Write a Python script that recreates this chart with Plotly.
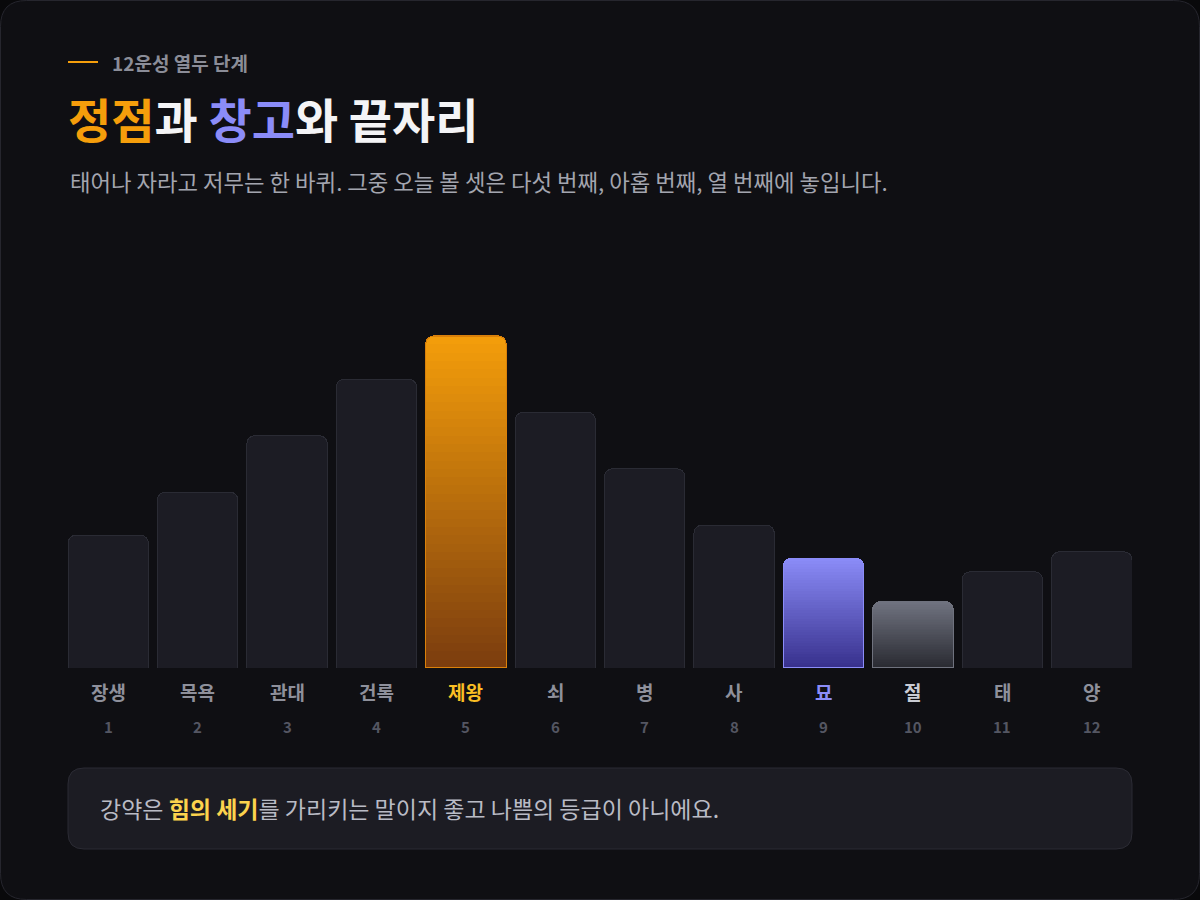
import plotly.graph_objects as go

# ---- data ----
categories = ["장생", "목욕", "관대", "건록", "제왕", "쇠", "병", "사", "묘", "절", "태", "양"]
stage_no = ["1", "2", "3", "4", "5", "6", "7", "8", "9", "10", "11", "12"]
strength = [40, 53, 70, 87, 100, 77, 60, 43, 33, 20, 29, 35]
highlight = {4: "peak", 8: "store", 9: "end"}

W, H = 1200, 900
FONT = "Noto Sans CJK KR"
BASE_PX, TOP_PX = 668, 300
PX_PER_UNIT = 3.32
YMAX = (BASE_PX - TOP_PX) / PX_PER_UNIT

grad = {
    "peak": ((122, 60, 14), (245, 158, 11), "#d9800a"),
    "store": ((55, 48, 140), (139, 140, 248), "#8b8cf8"),
    "end": ((40, 41, 48), (112, 115, 128), "#6f727e"),
}
label_col = {"peak": "#fbbf24", "store": "#8b8cf8", "end": "#c9cbd3"}


def px(x):
    return x / W


def py(y):
    return 1 - y / H


def rrect(x0, y0, x1, y1, r):
    p = []
    p.append(f"M {px(x0 + r)},{py(y0)}")
    p.append(f"L {px(x1 - r)},{py(y0)}")
    p.append(f"Q {px(x1)},{py(y0)} {px(x1)},{py(y0 + r)}")
    p.append(f"L {px(x1)},{py(y1 - r)}")
    p.append(f"Q {px(x1)},{py(y1)} {px(x1 - r)},{py(y1)}")
    p.append(f"L {px(x0 + r)},{py(y1)}")
    p.append(f"Q {px(x0)},{py(y1)} {px(x0)},{py(y1 - r)}")
    p.append(f"L {px(x0)},{py(y0 + r)}")
    p.append(f"Q {px(x0)},{py(y0)} {px(x0 + r)},{py(y0)} Z")
    return " ".join(p)


idx = list(range(len(categories)))
fig = go.Figure()

# base dark bars
fig.add_trace(go.Bar(
    x=idx,
    y=[None if i in highlight else v for i, v in zip(idx, strength)],
    marker=dict(color="#1c1c24", line=dict(color="#2a2b34", width=1), cornerradius=8),
    hoverinfo="skip", showlegend=False,
))

# gradient segments for highlighted bars
N = 40
for k in range(N):
    t = (k + 0.5) / N
    ys, cols = [], []
    for i, v in zip(idx, strength):
        if i in highlight:
            lo, hi, _ = grad[highlight[i]]
            c = tuple(round(lo[j] + (hi[j] - lo[j]) * t) for j in range(3))
            ys.append(v / N)
            cols.append(f"rgb{c}")
        else:
            ys.append(None)
            cols.append("rgba(0,0,0,0)")
    fig.add_trace(go.Bar(
        x=idx, y=ys,
        marker=dict(color=cols, line=dict(width=0), cornerradius=8),
        hoverinfo="skip", showlegend=False,
    ))

# outlines for highlighted bars on overlaid axis
fig.add_trace(go.Bar(
    x=idx,
    y=[v if i in highlight else None for i, v in zip(idx, strength)],
    xaxis="x2", yaxis="y2",
    marker=dict(color="rgba(0,0,0,0)",
                line=dict(color=[grad[highlight[i]][2] if i in highlight else "rgba(0,0,0,0)" for i in idx], width=1.2),
                cornerradius=8),
    hoverinfo="skip", showlegend=False,
))

xdom = [68 / W, 1132 / W]
ydom = [py(BASE_PX), py(TOP_PX)]
xr = [-0.45, len(categories) - 0.55]

shapes = [
    dict(type="path", path=rrect(0.5, 0.5, W - 0.5, H - 0.5, 26), xref="paper", yref="paper",
         fillcolor="#0f0f13", line=dict(color="#26262e", width=1), layer="below"),
    dict(type="path", path=rrect(68, 768, 1132, 849, 16), xref="paper", yref="paper",
         fillcolor="#1c1c23", line=dict(color="#2b2b34", width=1), layer="below"),
    dict(type="line", x0=px(68), x1=px(98), y0=py(62), y1=py(62), xref="paper", yref="paper",
         line=dict(color="#f59e0b", width=2)),
]

ann = [
    dict(text="<b>12운성 열두 단계</b>", x=px(110), y=py(62), font=dict(size=19, color="#8b8d98")),
    dict(text="<b><span style='color:#f59e0b'>정점</span>과 <span style='color:#8b8cf8'>창고</span>와 끝자리</b>",
         x=px(66), y=py(117), font=dict(size=47, color="#f4f4f6")),
    dict(text="태어나 자라고 저무는 한 바퀴. 그중 오늘 볼 셋은 다섯 번째, 아홉 번째, 열 번째에 놓입니다.",
         x=px(68), y=py(181), font=dict(size=22.3, color="#a3a5af")),
    dict(text="강약은 <b><span style='color:#fcd34d'>힘의 세기</span></b>를 가리키는 말이지 좋고 나쁨의 등급이 아니에요.",
         x=px(98), y=py(808), font=dict(size=23, color="#b9bbc5")),
]
for a in ann:
    a.update(xref="paper", yref="paper", xanchor="left", yanchor="middle", showarrow=False)

for i, (name, no) in enumerate(zip(categories, stage_no)):
    col = label_col.get(highlight.get(i), "#8e909b")
    ann.append(dict(text=f"<b>{name}</b>", x=i, xref="x", y=py(691), yref="paper",
                    xanchor="center", yanchor="middle", showarrow=False,
                    font=dict(size=19, color=col)))
    ann.append(dict(text=no, x=i, xref="x", y=py(726), yref="paper",
                    xanchor="center", yanchor="middle", showarrow=False,
                    font=dict(size=15, color="#545662", weight=600)))

axis_off = dict(showgrid=False, zeroline=False, showticklabels=False, ticks="", showline=False, fixedrange=True)
fig.update_layout(
    width=W, height=H,
    margin=dict(l=0, r=0, t=0, b=0),
    paper_bgcolor="#09090b", plot_bgcolor="rgba(0,0,0,0)",
    font=dict(family=FONT),
    barmode="stack", bargap=0.1,
    xaxis=dict(domain=xdom, range=xr, **axis_off),
    yaxis=dict(domain=ydom, range=[0, YMAX], **axis_off),
    xaxis2=dict(domain=xdom, range=xr, overlaying="x", **axis_off),
    yaxis2=dict(domain=ydom, range=[0, YMAX], overlaying="y", **axis_off),
    shapes=shapes, annotations=ann,
)

fig.write_html("out.html")
